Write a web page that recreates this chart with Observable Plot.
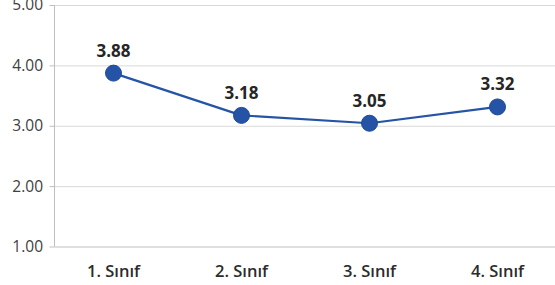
<!DOCTYPE html>
<html>
<head>
<meta charset="utf-8">
<script src="https://cdn.jsdelivr.net/npm/d3@7"></script>
<script src="https://cdn.jsdelivr.net/npm/@observablehq/plot@0.6"></script>
<style>
  html, body { margin: 0; padding: 0; background: #fff; }
  #chart svg { display: block; }
</style>
</head>
<body>
<div id="chart"></div>
<script>
const categories = ["1. Sınıf", "2. Sınıf", "3. Sınıf", "4. Sınıf"];
const values = [3.88, 3.18, 3.05, 3.32];
const yTicks = [1, 2, 3, 4, 5];

const data = categories.map((c, i) => ({cat: c, v: values[i]}));
const blue = "#2553a6";

const chart = Plot.plot({
  width: 555,
  height: 285,
  marginLeft: 54.5,
  marginRight: 0,
  marginTop: 5,
  marginBottom: 38.5,
  style: {fontFamily: "'Open Sans', sans-serif", background: "#fff", overflow: "visible"},
  x: {type: "point", domain: categories, padding: 0.45, label: null},
  y: {domain: [1, 5], label: null},
  marks: [
    Plot.ruleY(yTicks.filter(d => d > 1), {stroke: "#d9d9d9", strokeWidth: 1}),
    Plot.ruleY([1], {stroke: "#bfbfbf", strokeWidth: 1}),
    Plot.axisY({ticks: yTicks, tickFormat: d => d.toFixed(2), tickSize: 5, tickPadding: 7,
      fontSize: 15.5, color: "#404040", stroke: "#bfbfbf", label: null}),
    Plot.axisX({tickSize: 0, tickPadding: 18.5, fontSize: 16.5, fontWeight: 600, color: "#2b2b2b", label: null}),
    Plot.line(data, {x: "cat", y: "v", stroke: blue, strokeWidth: 2.2}),
    Plot.dot(data, {x: "cat", y: "v", r: 8, fill: blue, stroke: "#1f4a96", strokeWidth: 1}),
    Plot.text(data, {x: "cat", y: "v", text: d => d.v.toFixed(2), dy: -22, fontSize: 17, fontWeight: "bold", fill: "#262626"})
  ]
});

// vertical y-axis line at left edge of plot area
const svg = d3.select(chart);
svg.append("line")
  .attr("x1", 54.5).attr("x2", 54.5).attr("y1", 5).attr("y2", 246.5)
  .attr("stroke", "#bfbfbf");

document.getElementById("chart").append(chart);
</script>
</body>
</html>
